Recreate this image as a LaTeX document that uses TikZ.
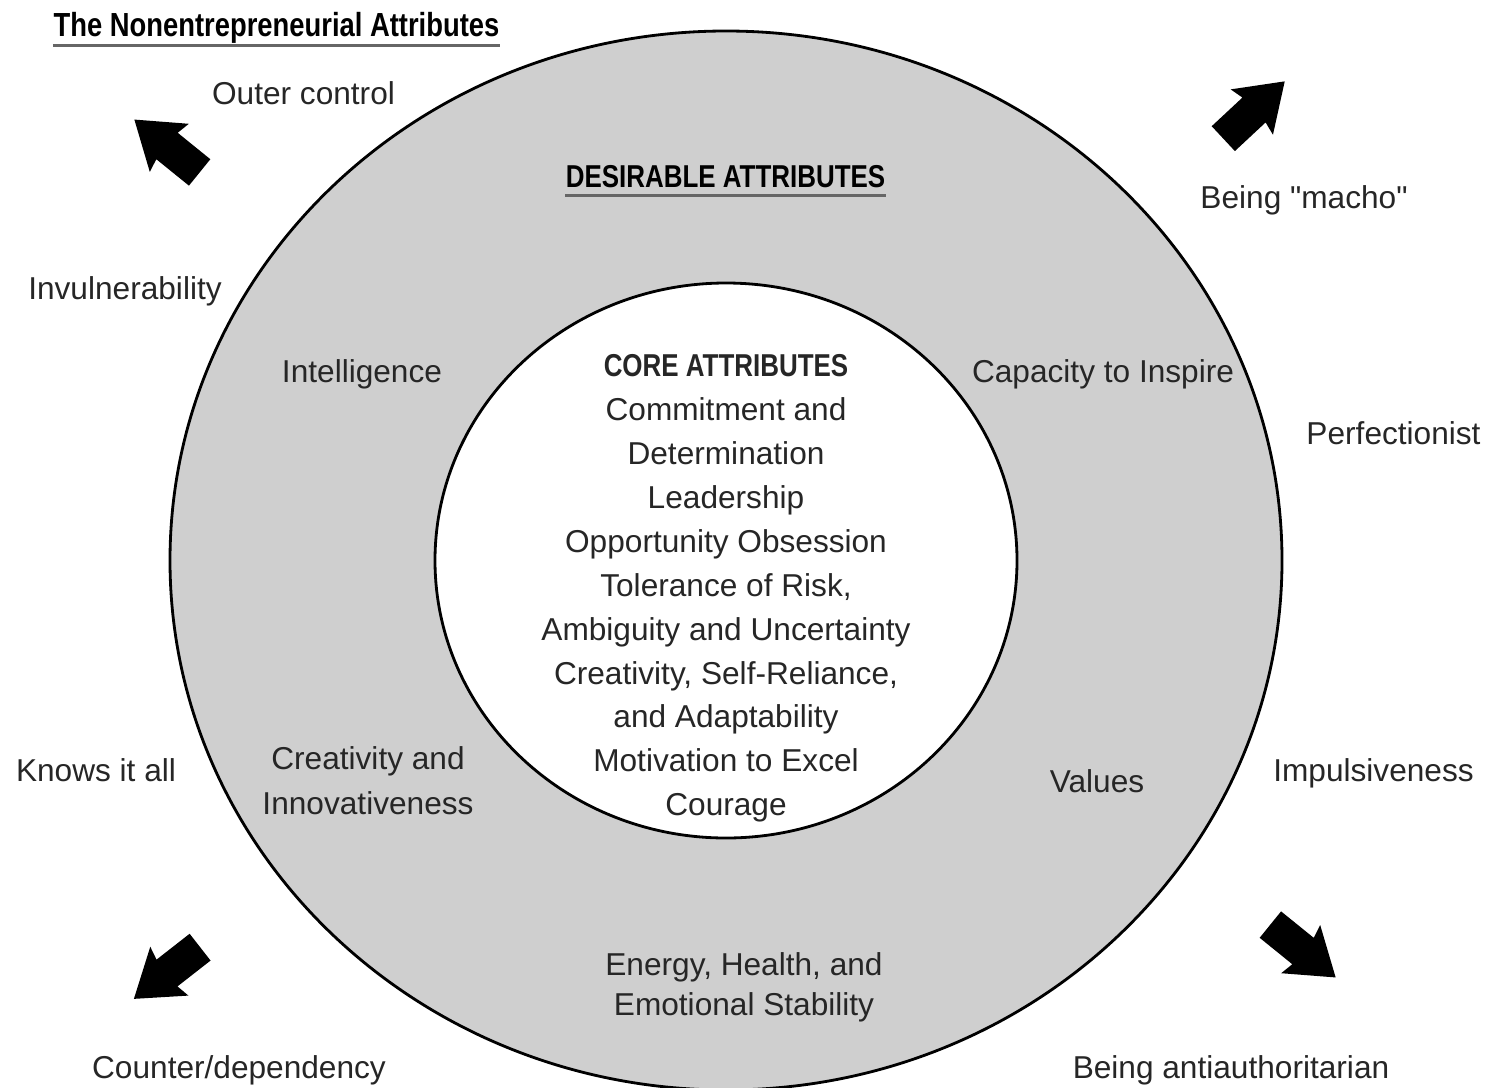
\documentclass[tikz,border=0pt]{standalone}
\usepackage{fontspec}
\setmainfont{Liberation Sans}
\newfontfamily\headfont[FakeStretch=0.82]{Liberation Sans}
\newfontfamily\plainfont{Liberation Sans}
\usepackage{tikz}
\usetikzlibrary{positioning,calc}

\begin{document}
\begin{tikzpicture}[
  lbl/.style={font=\fontsize{9}{12.6}\selectfont, text=black!85, align=center, inner sep=0pt},
  hdr/.style={font=\headfont\bfseries\fontsize{9}{11}\selectfont, text=black, inner sep=0pt},
  rule/.style={draw=black!60, line width=1.1pt}
]
\useasboundingbox (0,0) rectangle (14.87,10.87);

% Rings
\coordinate (ctr) at (7.26,5.265);
\draw[line width=0.8pt, fill=gray!38] (ctr) ellipse [x radius=5.56, y radius=5.295];
\draw[line width=0.8pt, fill=white] (ctr) ellipse [x radius=2.91, y radius=2.775];

% Headings (underlined)
\node[hdr, font=\headfont\bfseries\fontsize{9.5}{11}\selectfont, anchor=base] (nonent) at (2.765,10.50) {The Nonentrepreneurial Attributes};
\draw[rule, line width=0.9pt] ([yshift=-2.3pt]nonent.base west) -- ([yshift=-2.3pt]nonent.base east);

\node[hdr, anchor=base] (desir) at (7.255,9.00) {DESIRABLE ATTRIBUTES};
\draw[rule] ([yshift=-2.4pt]desir.base west) -- ([yshift=-2.4pt]desir.base east);

% Core attributes
\node[lbl, font=\fontsize{9}{12.49}\selectfont] (core) at (7.26,4.985)
  {{\headfont\bfseries CORE ATTRIBUTES}\\
   Commitment and\\ Determination\\ Leadership\\ Opportunity Obsession\\
   Tolerance of Risk,\\ Ambiguity and Uncertainty\\ Creativity, Self-Reliance,\\
   and Adaptability\\ Motivation to Excel\\ Courage};

% Desirable attributes (in the ring)
\node[lbl, anchor=base] (intel) at (3.62,7.05) {Intelligence};
\node[lbl, anchor=base] (inspire) at (11.03,7.05) {Capacity to Inspire};
\node[lbl, font=\fontsize{9}{12.8}\selectfont] (creat) at (3.68,3.06) {Creativity and\\ Innovativeness};
\node[lbl, anchor=base] (values) at (10.97,2.95) {Values};
\node[lbl, font=\fontsize{9}{11.4}\selectfont] (energy) at (7.44,1.00) {Energy, Health, and\\ Emotional Stability};

% Nonentrepreneurial attributes (outside)
\node[lbl, anchor=base] (outer) at (3.035,9.83) {Outer control};
\node[lbl, anchor=base] (invul) at (1.25,7.88) {Invulnerability};
\node[lbl, anchor=base] (knows) at (0.96,3.06) {Knows it all};
\node[lbl, anchor=base] (counter) at (2.39,0.09) {Counter/dependency};
\node[lbl, anchor=base] (macho) at (13.04,8.79) {Being {\plainfont"}macho{\plainfont"}};
\node[lbl, anchor=base] (perfect) at (13.935,6.43) {Perfectionist};
\node[lbl, anchor=base] (impuls) at (13.735,3.06) {Impulsiveness};
\node[lbl, anchor=base] (antiauth) at (12.31,0.09) {Being antiauthoritarian};

% Outward arrows
\foreach \x/\y/\a in {1.67/9.41/141, 12.54/9.77/43, 1.67/1.14/218, 13.03/1.36/-39}
  \fill[shift={(\x,\y)}, rotate=\a] (-0.42,0.17) -- (0,0.17) -- (-0.03,0.31) -- (0.42,0)
    -- (-0.03,-0.31) -- (0,-0.17) -- (-0.42,-0.17) -- cycle;

\end{tikzpicture}
\end{document}
